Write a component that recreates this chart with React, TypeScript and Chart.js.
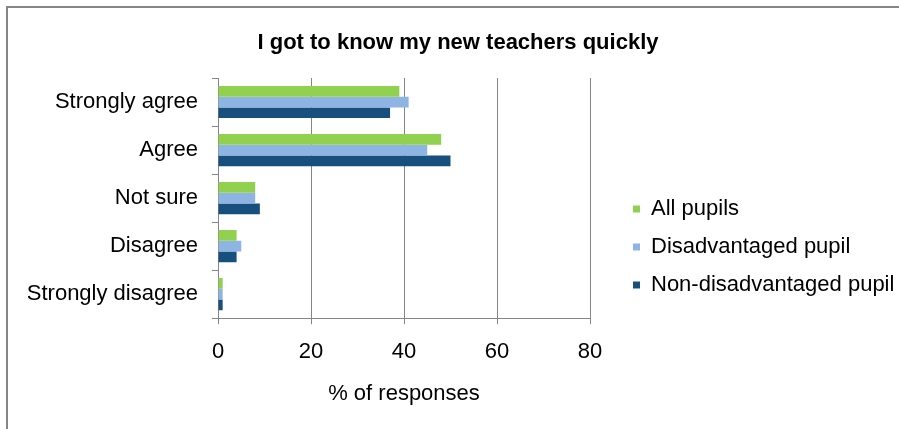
import React, { useEffect, useRef } from 'react';
import { Chart, registerables } from 'chart.js';

Chart.register(...registerables);

const categories = ['Strongly agree', 'Agree', 'Not sure', 'Disagree', 'Strongly disagree'];
const seriesNames = ['All pupils', 'Disadvantaged pupil', 'Non-disadvantaged pupil'];
const allPupils = [39, 48, 8, 4, 1];
const disadvantagedPupil = [41, 45, 8, 5, 1];
const nonDisadvantagedPupil = [37, 50, 9, 4, 1];
const xMin = 0;
const xMax = 80;
const xStep = 20;

const chartTitle = 'I got to know my new teachers quickly';
const xAxisTitle = '% of responses';

const FONT = '"Liberation Sans", Arial, sans-serif';
const GRID = '#868686';
const LEGEND_WIDTH = 298;
const LEGEND_DX = 27;
const LEGEND_DY = 37;

const layoutNudge = {
  id: 'layoutNudge',
  beforeLayout(chart: any) {
    const lg = chart.legend;
    if (lg && !lg._fitPatched) {
      const orig = lg.fit;
      lg.fit = function () {
        orig.call(this);
        this.width = LEGEND_WIDTH;
      };
      lg._fitPatched = true;
    }
  },
  afterLayout(chart: any) {
    const lg = chart.legend;
    if (lg) {
      lg.left += LEGEND_DX;
      lg.right += LEGEND_DX;
      lg.top += LEGEND_DY;
      lg.bottom += LEGEND_DY;
    }
  },
  beforeDraw(chart: any) {
    const ctx = chart.ctx;
    ctx.save();
    ctx.fillStyle = '#ffffff';
    ctx.fillRect(0, 0, chart.width, chart.height);
    ctx.strokeStyle = GRID;
    ctx.lineWidth = 2;
    ctx.strokeRect(7, 7, chart.width + 20, chart.height + 20);
    ctx.restore();
  },
};

export default function App() {
  const canvasRef = useRef<HTMLCanvasElement | null>(null);

  useEffect(() => {
    if (!canvasRef.current) return;
    Chart.defaults.font.family = FONT;
    const chart = new Chart(canvasRef.current, {
      type: 'bar',
      data: {
        labels: categories,
        datasets: [
          { label: seriesNames[0], data: allPupils, backgroundColor: '#92D050' },
          { label: seriesNames[1], data: disadvantagedPupil, backgroundColor: '#8EB4E3' },
          { label: seriesNames[2], data: nonDisadvantagedPupil, backgroundColor: '#17507E' },
        ],
      },
      options: {
        indexAxis: 'y',
        responsive: false,
        animation: false,
        devicePixelRatio: 1,
        datasets: {
          bar: { categoryPercentage: 0.67, barPercentage: 1, borderWidth: 0 },
        },
        layout: { padding: { left: 28, right: 11, top: 0, bottom: 9 } },
        scales: {
          x: {
            min: xMin,
            max: xMax,
            ticks: { stepSize: xStep, color: '#000', font: { size: 22, family: FONT }, padding: 15 },
            grid: { color: GRID, lineWidth: 1, drawTicks: true, tickLength: 6, tickColor: GRID },
            border: { display: true, color: GRID, width: 1 },
            title: {
              display: true,
              text: xAxisTitle,
              color: '#000',
              font: { size: 22, family: FONT },
              padding: { top: 0, bottom: 13 },
            },
          },
          y: {
            ticks: { color: '#000', font: { size: 22, family: FONT }, padding: 14 },
            grid: { drawOnChartArea: false, drawTicks: true, tickLength: 6, color: GRID, offset: true },
            border: { display: true, color: GRID, width: 1 },
            afterFit: (scale: any) => {
              scale.width = 190;
            },
          },
        },
        plugins: {
          title: {
            display: true,
            text: chartTitle,
            color: '#000',
            font: { size: 22, weight: 'bold', family: FONT },
            padding: { top: 29.5, bottom: 22.1 },
          },
          legend: {
            position: 'right',
            align: 'center',
            labels: {
              boxWidth: 7,
              boxHeight: 7,
              padding: 16,
              color: '#000',
              font: { size: 22, family: FONT },
            },
          },
          tooltip: { enabled: false },
        },
      },
      plugins: [layoutNudge],
    });
    return () => chart.destroy();
  }, []);

  return (
    <div style={{ position: 'fixed', left: 0, top: 0, width: 899, height: 429, background: '#fff' }}>
      <canvas ref={canvasRef} width={899} height={429} style={{ display: 'block' }} />
    </div>
  );
}
